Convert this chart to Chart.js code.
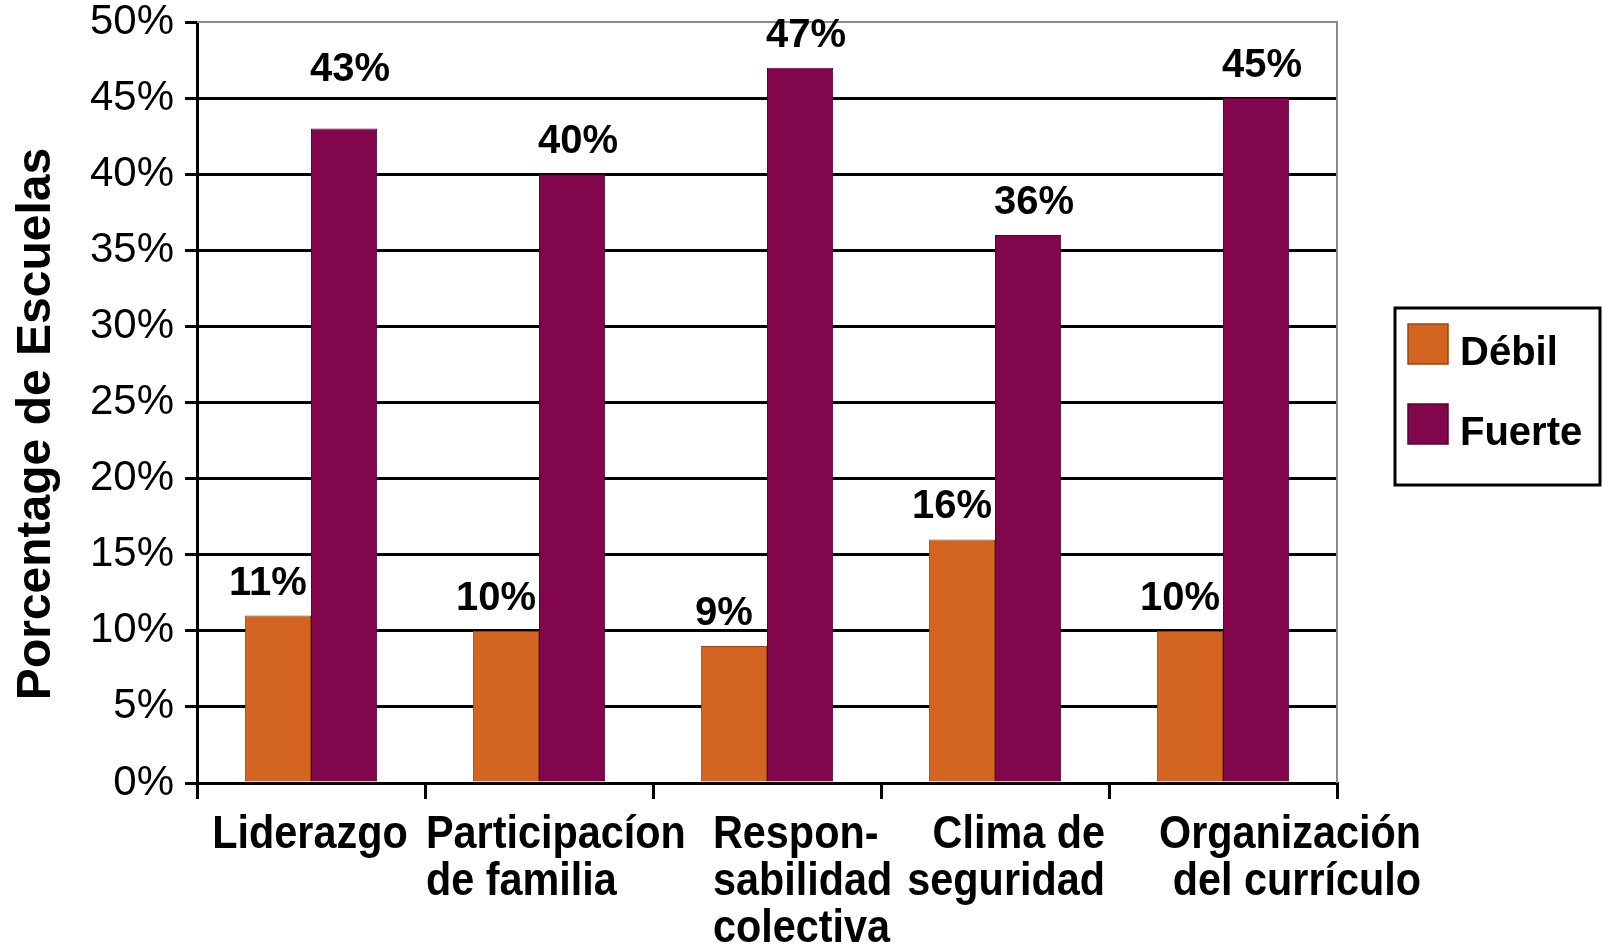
<!DOCTYPE html>
<html>
<head>
<meta charset="utf-8">
<script src="https://cdn.jsdelivr.net/npm/chart.js"></script>
<style>
  html, body { margin: 0; padding: 0; background: #fff; }
  canvas { display: block; }
</style>
</head>
<body>
<canvas id="myChart" width="1602" height="946"></canvas>
<script>
// data
const categories = [
  ['Liderazgo'],
  ['Participacíon', 'de familia'],
  ['Respon-', 'sabilidad', 'colectiva'],
  ['Clima de', 'seguridad'],
  ['Organización', 'del currículo']
];
const debil = [11, 10, 9, 16, 10];
const fuerte = [43, 40, 47, 36, 45];
const yTicks = [0, 5, 10, 15, 20, 25, 30, 35, 40, 45, 50];
const yTitle = 'Porcentage de Escuelas';

const FONT = '"Liberation Sans", Arial, sans-serif';

// hand-drawn pieces: data labels, category labels, y title, legend box
const extras = {
  id: 'extras',
  afterDraw(chart) {
    const ctx = chart.ctx;
    const area = chart.chartArea;
    const xs = chart.scales.x;

    // right/top plot border in grey
    ctx.save();
    ctx.strokeStyle = '#8c8c8c';
    ctx.lineWidth = 2;
    ctx.beginPath();
    ctx.moveTo(area.left, area.top);
    ctx.lineTo(area.right, area.top);
    ctx.lineTo(area.right, area.bottom);
    ctx.stroke();
    ctx.restore();

    // value labels above bars
    ctx.save();
    ctx.fillStyle = '#000';
    ctx.font = 'bold 40px ' + FONT;
    ctx.textAlign = 'center';
    ctx.textBaseline = 'alphabetic';
    chart.data.datasets.forEach((ds, di) => {
      const meta = chart.getDatasetMeta(di);
      meta.data.forEach((bar, i) => {
        const dx = di === 0 ? -10 : 6;
        const lift = (di === 1 && i === 0) ? 48 : 21;
        ctx.fillText(ds.data[i] + '%', bar.x + dx, bar.y - lift);
      });
    });
    ctx.restore();

    // category labels (narrow bold, aligned as in the reference)
    const place = [
      { align: 'center', dx: -1 },
      { align: 'left', dx: -113 },
      { align: 'left', dx: -54 },
      { align: 'right', dx: 110 },
      { align: 'right', dx: 198 }
    ];
    ctx.save();
    ctx.fillStyle = '#000';
    ctx.font = 'bold 47px ' + FONT;
    ctx.textBaseline = 'alphabetic';
    categories.forEach((lines, i) => {
      const cx = xs.getPixelForValue(i) + place[i].dx;
      ctx.textAlign = place[i].align;
      lines.forEach((txt, li) => {
        ctx.save();
        ctx.translate(cx, area.bottom + 65 + li * 47);
        ctx.scale(0.88, 1);
        ctx.fillText(txt, 0, 0);
        ctx.restore();
      });
    });
    ctx.restore();

    // y axis title
    ctx.save();
    ctx.fillStyle = '#000';
    ctx.font = 'bold 48px ' + FONT;
    ctx.textAlign = 'center';
    ctx.textBaseline = 'alphabetic';
    ctx.translate(50, 424);
    ctx.rotate(-Math.PI / 2);
    ctx.fillText(yTitle, 0, 0);
    ctx.restore();

    // legend box
    ctx.save();
    ctx.strokeStyle = '#000';
    ctx.lineWidth = 3;
    ctx.strokeRect(1395, 308, 205, 177);
    ctx.font = 'bold 40px ' + FONT;
    ctx.textAlign = 'left';
    ctx.textBaseline = 'alphabetic';
    chart.data.datasets.forEach((ds, di) => {
      const y = 324 + di * 80;
      ctx.fillStyle = ds.backgroundColor;
      ctx.fillRect(1408, y, 40, 40);
      ctx.strokeStyle = ds.borderColor;
      ctx.lineWidth = 1.5;
      ctx.strokeRect(1408, y, 40, 40);
      ctx.fillStyle = '#000';
      ctx.fillText(ds.label, 1460, y + 41);
    });
    ctx.restore();
  }
};

const ctx = document.getElementById('myChart').getContext('2d');
new Chart(ctx, {
  type: 'bar',
  data: {
    labels: categories.map(c => c.join(' ')),
    datasets: [
      {
        label: 'Débil',
        data: debil,
        backgroundColor: '#D46521',
        borderColor: '#9a4511',
        borderWidth: 1,
        categoryPercentage: 0.58,
        barPercentage: 1
      },
      {
        label: 'Fuerte',
        data: fuerte,
        backgroundColor: '#82064B',
        borderColor: '#5a0333',
        borderWidth: 1,
        categoryPercentage: 0.58,
        barPercentage: 1
      }
    ]
  },
  options: {
    responsive: false,
    animation: false,
    layout: { padding: { left: 0, top: 22, right: 265, bottom: 0 } },
    plugins: {
      legend: { display: false },
      tooltip: { enabled: false }
    },
    scales: {
      x: {
        offset: true,
        afterFit: s => { s.height = 163; s.paddingLeft = 0; s.paddingRight = 0; },
        ticks: { display: false },
        grid: {
          offset: true,
          drawOnChartArea: false,
          drawTicks: true,
          tickLength: 16,
          color: '#000',
          lineWidth: 3
        },
        border: { color: '#000', width: 3 }
      },
      y: {
        min: 0,
        max: 50,
        afterFit: s => { s.width = 197; s.paddingTop = 0; s.paddingBottom = 0; },
        afterBuildTicks: s => { s.ticks = yTicks.map(v => ({ value: v })); },
        ticks: {
          padding: 11,
          color: '#000',
          font: { family: FONT, size: 42, lineHeight: 1 },
          callback: v => v + '%'
        },
        grid: {
          color: c => (c.tick && c.tick.value === 50) ? 'rgba(0,0,0,0)' : '#000',
          tickColor: '#000',
          lineWidth: 3,
          tickLength: 12
        },
        border: { color: '#000', width: 3 }
      }
    }
  },
  plugins: [extras]
});
</script>
</body>
</html>
